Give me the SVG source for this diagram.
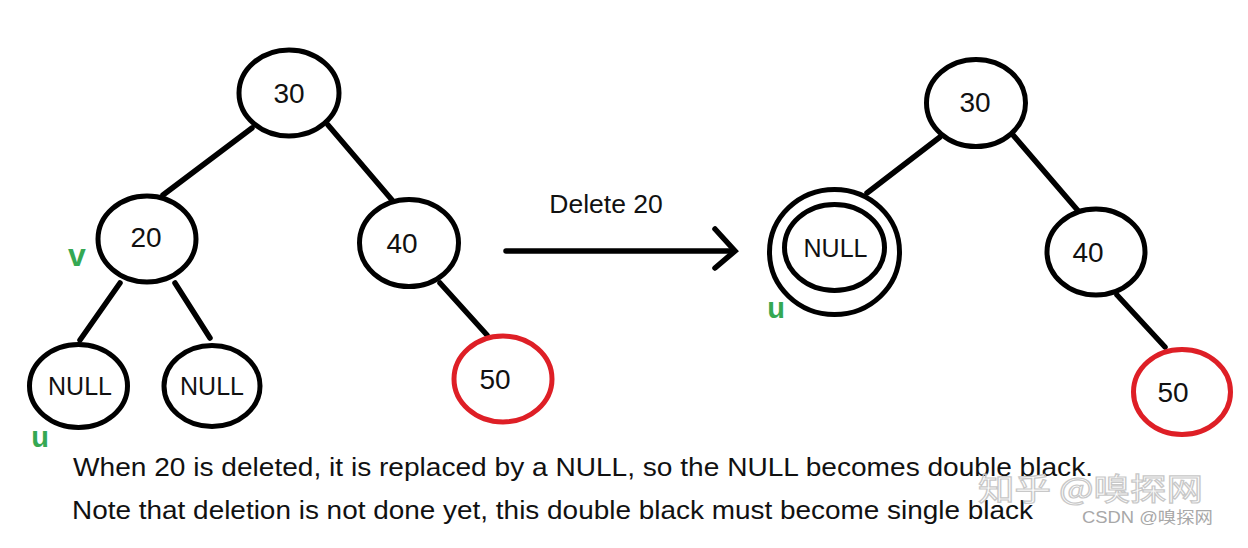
<svg xmlns="http://www.w3.org/2000/svg" width="1248" height="548" viewBox="0 0 1248 548">
<style>
.n{fill:#fff;stroke:#000;stroke-width:5}
.r{fill:#fff;stroke:#de1f26;stroke-width:5}
.e{stroke:#000;stroke-width:5.5;stroke-linecap:round;fill:none}
.t{font-family:"Liberation Sans",Arial,sans-serif;fill:#111;text-anchor:middle}
.d{font-size:28px}
.nl{font-size:25px}
.g{font-family:"Liberation Sans",Arial,sans-serif;font-weight:bold;fill:#35a853;text-anchor:middle}
.cap{font-family:"Liberation Sans",Arial,sans-serif;font-size:26.5px;fill:#111}
</style>
<rect width="1248" height="548" fill="#fff"/>
<g id="connectors">
<line class="e" x1="252" y1="128" x2="163" y2="195"/>
<line class="e" x1="328" y1="125" x2="392" y2="200"/>
<line class="e" x1="120" y1="283" x2="80" y2="340"/>
<line class="e" x1="175" y1="283" x2="210" y2="338"/>
<line class="e" x1="440" y1="283" x2="487" y2="335"/>
<line class="e" x1="940" y1="137" x2="867" y2="193"/>
<line class="e" x1="1013" y1="135" x2="1080" y2="213"/>
<line class="e" x1="1117" y1="295" x2="1165" y2="347"/>
</g>
<g id="arrow">
<line class="e" x1="506" y1="251" x2="734" y2="251"/>
<polyline class="e" points="715,229 735,251 715,268"/>
<text class="t" x="606" y="213" style="font-size:26.5px">Delete 20</text>
</g>
<g id="L30"><ellipse class="n" cx="289" cy="93" rx="50" ry="43"/><text class="t d" x="289" y="103">30</text></g>
<g id="L20"><ellipse class="n" cx="147" cy="239" rx="49" ry="43"/><text class="t d" x="146" y="247">20</text></g>
<g id="L40"><ellipse class="n" cx="409" cy="243" rx="49.5" ry="43.5"/><text class="t d" x="402" y="253">40</text></g>
<g id="LNULL1"><ellipse class="n" cx="78.5" cy="386" rx="49" ry="41.5"/><text class="t nl" x="80" y="395">NULL</text></g>
<g id="LNULL2"><ellipse class="n" cx="212" cy="386" rx="48" ry="40.5"/><text class="t nl" x="212" y="395">NULL</text></g>
<g id="L50"><ellipse class="r" cx="503" cy="379" rx="49" ry="43"/><text class="t d" x="495" y="389">50</text></g>
<g id="Lv"><text class="g" x="77" y="266" style="font-size:32px">v</text></g>
<g id="Lu"><text class="g" x="40" y="447" style="font-size:29px">u</text></g>
<g id="R30"><ellipse class="n" cx="976" cy="103" rx="49.5" ry="43.5"/><text class="t d" x="975" y="112">30</text></g>
<g id="R40"><ellipse class="n" cx="1096" cy="252" rx="49" ry="43"/><text class="t d" x="1088" y="262">40</text></g>
<g id="RNULL"><ellipse class="n" cx="834.5" cy="252" rx="65" ry="62.5"/><ellipse class="n" cx="834.5" cy="247.5" rx="50" ry="43"/><text class="t nl" x="835.5" y="257">NULL</text></g>
<g id="R50"><ellipse class="r" cx="1182" cy="392" rx="48.5" ry="42.5"/><text class="t d" x="1173" y="402">50</text></g>
<g id="Ru"><text class="g" x="776" y="318" style="font-size:29px">u</text></g>
<g id="caption">
<text class="cap" x="73" y="476" textLength="1020" lengthAdjust="spacingAndGlyphs">When 20 is deleted, it is replaced by a NULL, so the NULL becomes double black.</text>
<text class="cap" x="72" y="519" textLength="961" lengthAdjust="spacingAndGlyphs">Note that deletion is not done yet, this double black must become single black</text>
</g>
<g id="watermark">
<text x="978" y="500" style="font-family:'Noto Sans CJK SC',sans-serif;font-size:31px;fill:none;stroke:#c8c8c8;stroke-width:1.2" textLength="225" lengthAdjust="spacingAndGlyphs">知乎 @嗅探网</text>
<text x="1082" y="523" style="font-family:'Liberation Sans','Noto Sans CJK SC',sans-serif;font-size:16px;fill:#a8a8a8" textLength="131" lengthAdjust="spacingAndGlyphs">CSDN @嗅探网</text>
</g>
</svg>
